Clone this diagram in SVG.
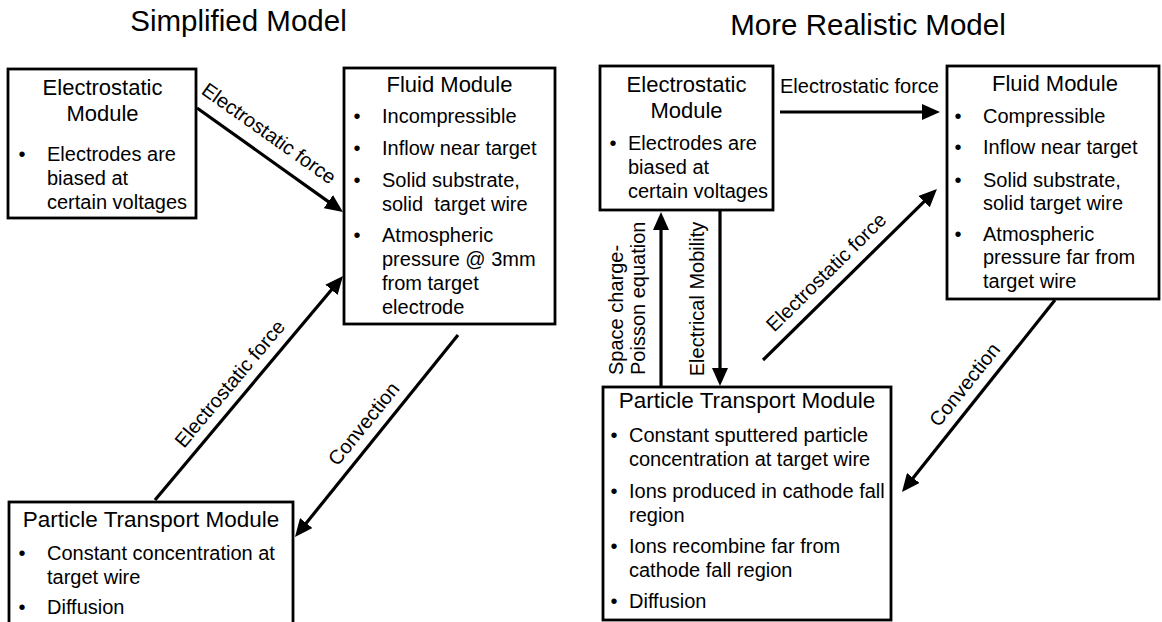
<svg xmlns="http://www.w3.org/2000/svg" width="1162" height="622" viewBox="0 0 1162 622">
<defs>
<style>
text{font-family:"Liberation Sans",Arial,Helvetica,sans-serif;fill:#000}
.ttl{font-size:29.5px;text-anchor:middle}
.h{font-size:22px;text-anchor:middle}
.b{font-size:20px}
.lbl{font-size:20px}
.mid{text-anchor:middle}
.box{fill:#fff;stroke:#000;stroke-width:2.8}
.con{fill:none;stroke:#000;stroke-width:3.2;marker-end:url(#ah)}
</style>
<marker id="ah" markerUnits="userSpaceOnUse" viewBox="0 0 18 16" markerWidth="18" markerHeight="16" refX="6" refY="8" orient="auto">
<path d="M0,0 L18,8 L0,16 z" fill="#000"/>
</marker>
</defs>
<rect width="1162" height="622" fill="#fff"/>

<g id="titles">
<text class="ttl" x="238.5" y="31">Simplified Model</text>
<text class="ttl" x="868" y="35">More Realistic Model</text>
</g>

<g id="left-electrostatic">
<rect class="box" x="8" y="69" width="188" height="149"/>
<text class="h" x="102.5" y="95">Electrostatic</text>
<text class="h" x="102.5" y="121">Module</text>
<text class="b" x="18.5" y="161">•</text>
<text class="b" x="47" y="161">Electrodes are</text>
<text class="b" x="47" y="185">biased at</text>
<text class="b" x="47" y="209">certain voltages</text>
</g>

<g id="left-fluid">
<rect class="box" x="344" y="68" width="211" height="256"/>
<text class="h" x="449.5" y="92">Fluid Module</text>
<text class="b" x="353.5" y="123">•</text>
<text class="b" x="382" y="123">Incompressible</text>
<text class="b" x="353.5" y="155">•</text>
<text class="b" x="382" y="155">Inflow near target</text>
<text class="b" x="353.5" y="187">•</text>
<text class="b" x="382" y="187">Solid substrate,</text>
<text class="b" x="382" y="211" style="white-space:pre">solid  target wire</text>
<text class="b" x="353.5" y="242">•</text>
<text class="b" x="382" y="242">Atmospheric</text>
<text class="b" x="382" y="266">pressure @ 3mm</text>
<text class="b" x="382" y="290">from target</text>
<text class="b" x="382" y="314">electrode</text>
</g>

<g id="left-particle">
<rect class="box" x="9" y="502" width="284" height="130"/>
<text class="h" x="151" y="527" style="font-size:22.5px">Particle Transport Module</text>
<text class="b" x="18.5" y="560">•</text>
<text class="b" x="47" y="560">Constant concentration at</text>
<text class="b" x="47" y="584">target wire</text>
<text class="b" x="18.5" y="614">•</text>
<text class="b" x="47" y="614">Diffusion</text>
</g>

<g id="right-electrostatic">
<rect class="box" x="600" y="66" width="173" height="144"/>
<text class="h" x="686.5" y="92">Electrostatic</text>
<text class="h" x="686.5" y="118">Module</text>
<text class="b" x="609.5" y="150">•</text>
<text class="b" x="628" y="150">Electrodes are</text>
<text class="b" x="628" y="174">biased at</text>
<text class="b" x="628" y="198">certain voltages</text>
</g>

<g id="right-fluid">
<rect class="box" x="947" y="66" width="212" height="233"/>
<text class="h" x="1055" y="91">Fluid Module</text>
<text class="b" x="954.5" y="123">•</text>
<text class="b" x="983" y="123">Compressible</text>
<text class="b" x="954.5" y="154">•</text>
<text class="b" x="983" y="154">Inflow near target</text>
<text class="b" x="954.5" y="187">•</text>
<text class="b" x="983" y="187">Solid substrate,</text>
<text class="b" x="983" y="210">solid target wire</text>
<text class="b" x="954.5" y="241">•</text>
<text class="b" x="983" y="241">Atmospheric</text>
<text class="b" x="983" y="264">pressure far from</text>
<text class="b" x="983" y="288">target wire</text>
</g>

<g id="right-particle">
<rect class="box" x="603" y="387" width="288" height="233"/>
<text class="h" x="747" y="408" style="font-size:22.5px">Particle Transport Module</text>
<text class="b" x="610.5" y="442">•</text>
<text class="b" x="629" y="442">Constant sputtered particle</text>
<text class="b" x="629" y="466">concentration at target wire</text>
<text class="b" x="610.5" y="498">•</text>
<text class="b" x="629" y="498">Ions produced in cathode fall</text>
<text class="b" x="629" y="522">region</text>
<text class="b" x="610.5" y="553">•</text>
<text class="b" x="629" y="553">Ions recombine far from</text>
<text class="b" x="629" y="577">cathode fall region</text>
<text class="b" x="610.5" y="608">•</text>
<text class="b" x="629" y="608">Diffusion</text>
</g>

<g id="connectors">
<line class="con" x1="197" y1="108" x2="333.2" y2="205.1"/>
<line class="con" x1="155" y1="500" x2="335.3" y2="285.2"/>
<line class="con" x1="458" y1="335" x2="302.5" y2="527.7"/>
<line class="con" x1="780" y1="112" x2="928" y2="112"/>
<line class="con" x1="763" y1="360" x2="928.4" y2="197.4"/>
<line class="con" x1="1055" y1="300" x2="909.5" y2="482.6"/>
<line class="con" x1="661" y1="387" x2="661" y2="224"/>
<line class="con" x1="720" y1="211" x2="720" y2="374"/>
<text class="lbl mid" transform="translate(265,139) rotate(35.3)">Electrostatic force</text>
<text class="lbl mid" transform="translate(235,388) rotate(-50)">Electrostatic force</text>
<text class="lbl mid" transform="translate(369,428) rotate(-51.1)">Convection</text>
<text class="lbl" x="780" y="93">Electrostatic force</text>
<text class="lbl mid" transform="translate(831,277) rotate(-44.5)">Electrostatic force</text>
<text class="lbl mid" transform="translate(970,389) rotate(-51.4)">Convection</text>
<text class="lbl" transform="translate(623,375) rotate(-90)">Space charge-</text>
<text class="lbl" transform="translate(644.5,375) rotate(-90)">Poisson equation</text>
<text class="lbl mid" transform="translate(704,299) rotate(-90)">Electrical Mobility</text>
</g>
</svg>
